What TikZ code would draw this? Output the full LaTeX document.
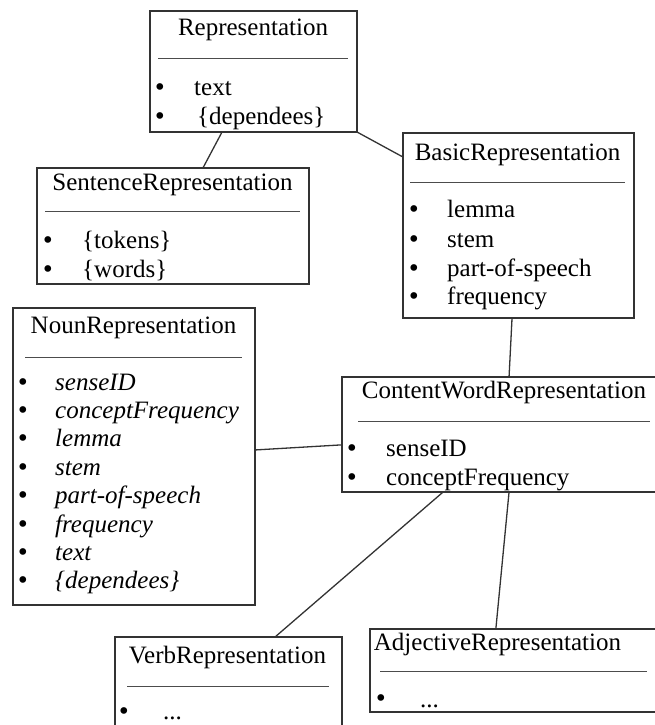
\documentclass[tikz,border=0pt]{standalone}
\usepackage{fontspec}
\setmainfont{Liberation Serif}
\newfontfamily\bulfont{DejaVu Sans}
\usetikzlibrary{calc}
\tikzset{
  box/.style={draw=black!80, line width=1.5pt, fill=white, anchor=north west, inner sep=0pt, outer sep=0pt},
  sepline/.style={draw=black!70, line width=1pt},
  conn/.style={draw=black!80, line width=1.3pt},
  ttl/.style={anchor=base, inner sep=0pt, font=\fontsize{25}{30}\selectfont},
  itm/.style={anchor=base west, inner sep=0pt, font=\fontsize{25}{30}\selectfont},
  iitm/.style={anchor=base west, inner sep=0pt, font=\fontsize{25}{30}\selectfont\itshape},
  bul/.style={anchor=base, inner sep=0pt, font=\bulfont\fontsize{23}{28}\selectfont}
}
\begin{document}
\begin{tikzpicture}[x=1pt,y=-1pt]
\useasboundingbox (0,0) rectangle (655,725);
% boxes
\node[box, minimum width=207pt, minimum height=121pt] (rep) at (150,11) {};
\node[box, minimum width=272pt, minimum height=116pt] (sent) at (37,168) {};
\node[box, minimum width=231pt, minimum height=185pt] (basic) at (403,133) {};
\node[box, minimum width=314pt, minimum height=115pt] (cw) at (342,377) {};
\node[box, minimum width=242pt, minimum height=297pt] (noun) at (13,308) {};
\node[box, minimum width=227pt, minimum height=110pt] (verb) at (115,637) {};
\node[box, minimum width=286pt, minimum height=83pt] (adj) at (370,629) {};
% connectors
\draw[conn] ($(rep.south west)!0.348!(rep.south east)$) -- ($(sent.north west)!0.61!(sent.north east)$);
\draw[conn] (rep.south east) -- ($(basic.north west)!0.13!(basic.south west)$);
\draw[conn] ($(basic.south west)!0.472!(basic.south east)$) -- ($(cw.north west)!0.532!(cw.north east)$);
\draw[conn] ($(noun.north east)!0.478!(noun.south east)$) -- ($(cw.north west)!0.59!(cw.south west)$);
\draw[conn] ($(cw.south west)!0.322!(cw.south east)$) -- ($(verb.north west)!0.705!(verb.north east)$);
\draw[conn] ($(cw.south west)!0.532!(cw.south east)$) -- ($(adj.north west)!0.44!(adj.north east)$);
% Representation
\node[ttl] (repT) at (253,36) {Representation};
\draw[sepline] (158,59) -- (348,59);
\node[bul] (repB1) at (160,95) {•};
\node[itm] (repI1) at (194,95) {text};
\node[bul] (repB2) at (160,124) {•};
\node[itm] (repI2) at (197,124) {\{dependees\}};
% SentenceRepresentation
\node[ttl] (sentT) at (172.5,190) {SentenceRepresentation};
\draw[sepline] (45,211) -- (300,211);
\node[bul] (sentB1) at (48,248) {•};
\node[itm] (sentI1) at (82,248) {\{tokens\}};
\node[bul] (sentB2) at (48,277) {•};
\node[itm] (sentI2) at (82,277) {\{words\}};
% BasicRepresentation
\node[ttl] (basicT) at (517.5,160) {BasicRepresentation};
\draw[sepline] (410,182) -- (625,182);
\node[bul] (bB1) at (414,217) {•};
\node[itm] (bI1) at (447,217) {lemma};
\node[bul] (bB2) at (414,247) {•};
\node[itm] (bI2) at (447,247) {stem};
\node[bul] (bB3) at (414,276) {•};
\node[itm] (bI3) at (447,276) {part-of-speech};
\node[bul] (bB4) at (414,304) {•};
\node[itm] (bI4) at (447,304) {frequency};
% ContentWordRepresentation
\node[ttl] (cwT) at (504,398) {ContentWordRepresentation};
\draw[sepline] (358,421) -- (650,421);
\node[bul] (cB1) at (352,456) {•};
\node[itm] (cI1) at (386,456) {senseID};
\node[bul] (cB2) at (352,485) {•};
\node[itm] (cI2) at (386,485) {conceptFrequency};
% NounRepresentation
\node[ttl] (nounT) at (133.5,333) {NounRepresentation};
\draw[sepline] (25,357) -- (242,357);
\foreach \t [count=\i from 0] in {senseID,conceptFrequency,lemma,stem,part-of-speech,frequency,text,\{dependees\}}{
  \node[bul] (nB\i) at (23,390+28.4*\i) {•};
  \node[iitm] (nI\i) at (55,390+28.4*\i) {\t};
}
% VerbRepresentation
\node[ttl] (verbT) at (227.5,663) {VerbRepresentation};
\draw[sepline] (127,686) -- (329,686);
\node[bul] (vB1) at (124,719) {•};
\node[itm] (vI1) at (163,719) {...};
% AdjectiveRepresentation
\node[ttl] (adjT) at (497.5,650) {AdjectiveRepresentation};
\draw[sepline] (380,671) -- (647,671);
\node[bul] (aB1) at (381,706) {•};
\node[itm] (aI1) at (420,707) {...};
\end{tikzpicture}
\end{document}
